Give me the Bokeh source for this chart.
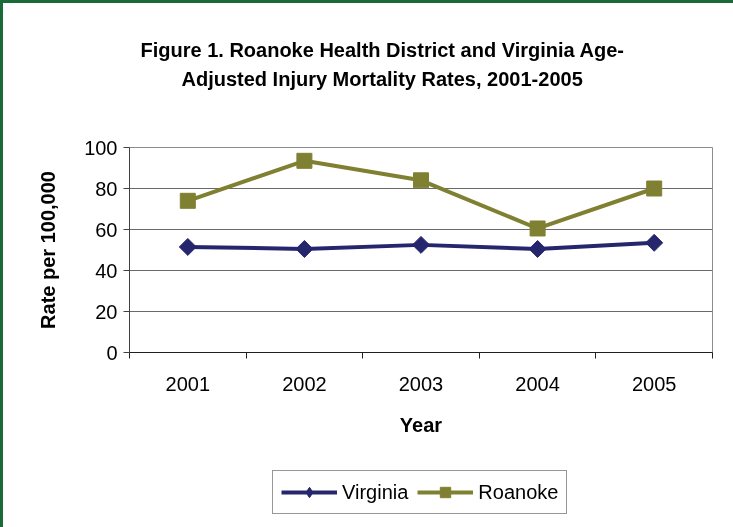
from bokeh.plotting import figure
from bokeh.layouts import column
from bokeh.models import FixedTicker, Legend, LegendItem, Range1d, Title
from bokeh.embed import file_html
from bokeh.resources import INLINE

years = [2001, 2002, 2003, 2004, 2005]
year_labels = ["2001", "2002", "2003", "2004", "2005"]
virginia = [51.5, 50.5, 52.5, 50.5, 53.5]
roanoke = [74, 93.5, 84, 60.5, 80]
y_ticks = [0, 20, 40, 60, 80, 100]
title_lines = ["Figure 1. Roanoke Health District and Virginia Age-",
               "Adjusted Injury Mortality Rates, 2001-2005"]
series_names = ["Virginia", "Roanoke"]

FONT = "Liberation Sans"
GREEN = "#1b6b3a"
NAVY = "#26266e"
OLIVE = "#808033"

p = figure(width=733, height=460, output_backend="svg", toolbar_location=None,
           x_range=Range1d(years[0] - 0.5, years[-1] + 0.5), y_range=Range1d(0, 100),
           min_border_left=129, min_border_right=21, min_border_top=147, min_border_bottom=108,
           background_fill_color="white", border_fill_alpha=0)

p.outline_line_color = "#8c8c8c"
p.outline_line_width = 1
p.xgrid.grid_line_color = None
p.ygrid.grid_line_color = "#6a6a6a"
p.ygrid.ticker = FixedTicker(ticks=y_ticks)

# y axis
p.yaxis.ticker = FixedTicker(ticks=y_ticks)
p.yaxis.axis_line_color = "#404040"
p.yaxis.major_tick_line_color = "#404040"
p.yaxis.major_tick_out = 6
p.yaxis.major_tick_in = 0
p.yaxis.minor_tick_line_color = None
p.yaxis.major_label_standoff = 6
p.yaxis.major_label_text_font = FONT
p.yaxis.major_label_text_font_size = "20px"
p.yaxis.major_label_text_color = "black"
p.yaxis.axis_label = "Rate per 100,000"
p.yaxis.axis_label_text_font = FONT
p.yaxis.axis_label_text_font_size = "20px"
p.yaxis.axis_label_text_font_style = "bold"
p.yaxis.axis_label_text_color = "black"
p.yaxis.axis_label_standoff = 22

# x axis: labels at category centers, ticks at category boundaries
boundaries = [y - 0.5 for y in years] + [years[-1] + 0.5]
p.xaxis.ticker = FixedTicker(ticks=years, minor_ticks=boundaries)
p.xaxis.major_label_overrides = {y: l for y, l in zip(years, year_labels)}
p.xaxis.axis_line_color = "#202020"
p.xaxis.major_tick_line_color = None
p.xaxis.major_tick_out = 0
p.xaxis.major_tick_in = 0
p.xaxis.minor_tick_line_color = "#202020"
p.xaxis.minor_tick_out = 6
p.xaxis.minor_tick_in = 0
p.xaxis.major_label_standoff = 18
p.xaxis.major_label_text_font = FONT
p.xaxis.major_label_text_font_size = "20px"
p.xaxis.major_label_text_color = "black"
p.xaxis.axis_label = "Year"
p.xaxis.axis_label_text_font = FONT
p.xaxis.axis_label_text_font_size = "20px"
p.xaxis.axis_label_text_font_style = "bold"
p.xaxis.axis_label_text_color = "black"
p.xaxis.axis_label_standoff = 20

p.line(years, virginia, line_color=NAVY, line_width=4)
p.scatter(years, virginia, marker="square", angle=45, angle_units="deg", size=12,
          fill_color=NAVY, line_color=NAVY)
p.line(years, roanoke, line_color=OLIVE, line_width=4)
p.scatter(years, roanoke, marker="square", size=15, fill_color=OLIVE, line_color=OLIVE)

# title block: spacer closest to the frame, then line 2, then line 1
p.add_layout(Title(text=" ", standoff=34, text_font=FONT, text_font_size="20px"), "above")
p.add_layout(Title(text=title_lines[1], align="left", offset=52, standoff=0,
                   text_font=FONT, text_font_size="20px", text_font_style="bold",
                   text_color="black"), "above")
p.add_layout(Title(text=title_lines[0], align="left", offset=11, standoff=10,
                   text_font=FONT, text_font_size="20px", text_font_style="bold",
                   text_color="black"), "above")

# legend strip underneath (series drawn out of view, only the legend shows)
q = figure(width=733, height=67, output_backend="svg", toolbar_location=None,
           x_range=Range1d(0, 1), y_range=Range1d(0, 1),
           min_border_left=0, min_border_right=0, min_border_top=0, min_border_bottom=0,
           background_fill_alpha=0, border_fill_alpha=0)
q.axis.visible = False
q.grid.grid_line_color = None
q.outline_line_color = None
lv = q.line(years, virginia, line_color=NAVY, line_width=4)
mv = q.scatter(years, virginia, marker="diamond", size=18, fill_color=NAVY, line_color=NAVY)
lr = q.line(years, roanoke, line_color=OLIVE, line_width=4)
mr = q.scatter(years, roanoke, marker="square", size=15, fill_color=OLIVE, line_color=OLIVE)
legend = Legend(items=[LegendItem(label=series_names[0], renderers=[lv, mv]),
                       LegendItem(label=series_names[1], renderers=[lr, mr])],
                orientation="horizontal", location=(143, 13),
                label_text_font=FONT, label_text_font_size="20px", label_text_color="black",
                glyph_width=56, glyph_height=26, label_standoff=5, spacing=9,
                padding=8, margin=0, border_line_color="#303030", border_line_width=1,
                background_fill_alpha=1)
q.add_layout(legend, "center")

layout = column(p, q, spacing=0,
                styles={"position": "fixed", "left": "0px", "top": "0px",
                        "box-shadow": "inset 3px 3px 0px 0px " + GREEN})

open("out.html", "w").write(file_html(layout, INLINE))
